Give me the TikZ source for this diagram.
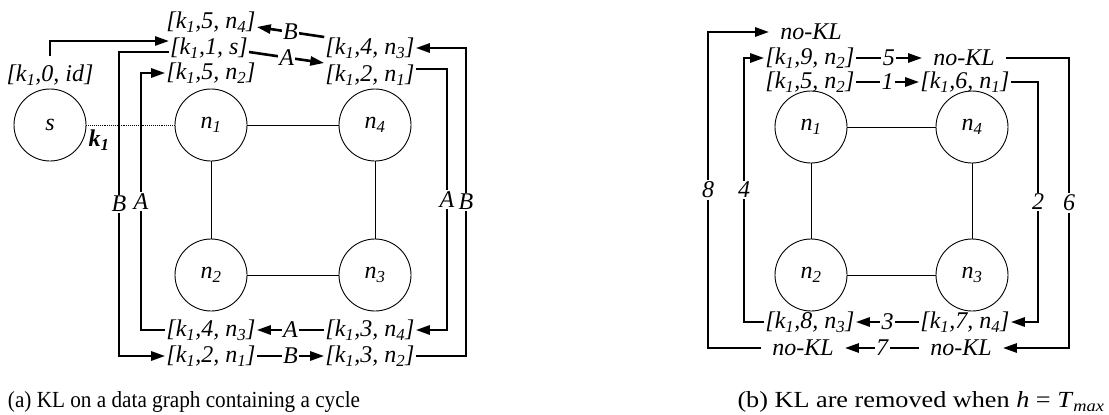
\documentclass[tikz,border=0pt]{standalone}
\usepackage{fontspec}
\setmainfont{Liberation Serif}
\usetikzlibrary{arrows.meta,calc}
\newcommand{\sub}[1]{\textsubscript{#1}}

\begin{document}
\begin{tikzpicture}[x=1pt, y=-1pt,
    vertex/.style={circle, draw, line width=0.9pt, minimum size=72pt,
        inner sep=0pt, font=\itshape\fontsize{24}{26}\selectfont},
    edge/.style={line width=0.9pt},
    klabel/.style={inner sep=1pt, font=\itshape\fontsize{24}{26}\selectfont},
    nokl/.style={klabel, inner xsep=11pt},
    conn/.style={line width=2.6pt},
    arr/.style={conn, -{Triangle[length=14pt, width=9pt]}},
    tag/.style={fill=white, inner sep=1.5pt, font=\itshape\fontsize{24}{26}\selectfont},
    capt/.style={inner sep=0pt, font=\fontsize{24}{26}\selectfont}
]
    \useasboundingbox (0,0) rectangle (1109,415);

    % (a) data graph with a cycle
    \node[vertex] (s) at (50,125) {s};
    \node[vertex] (a1) at (211,125) {n\sub{1}};
    \node[vertex] (a4) at (375,125) {n\sub{4}};
    \node[vertex] (a2) at (211,275) {n\sub{2}};
    \node[vertex] (a3) at (375,275) {n\sub{3}};
    \draw[edge] (a1) -- (a4) (a1) -- (a2) (a4) -- (a3) (a2) -- (a3);
    \draw[densely dotted, line width=0.9pt] (s) -- (a1);
    \node[font=\bfseries\itshape\fontsize{24}{26}\selectfont] (kone) at (99,140) {k\sub{1}};

    \node[klabel] (l0) at (50,75) {[k\sub{1},0, id]};
    \node[klabel] (l5n4) at (211,22) {[k\sub{1},5, n\sub{4}]};
    \node[klabel] (l1s) at (209,48) {[k\sub{1},1, s]};
    \node[klabel] (l5n2) at (211,73) {[k\sub{1},5, n\sub{2}]};
    \node[klabel] (l4n3t) at (370,48) {[k\sub{1},4, n\sub{3}]};
    \node[klabel] (l2n1t) at (370,75) {[k\sub{1},2, n\sub{1}]};
    \node[klabel] (l4n3b) at (211,330) {[k\sub{1},4, n\sub{3}]};
    \node[klabel] (l3n4) at (370,330) {[k\sub{1},3, n\sub{4}]};
    \node[klabel] (l2n1b) at (211,356) {[k\sub{1},2, n\sub{1}]};
    \node[klabel] (l3n2) at (370,356) {[k\sub{1},3, n\sub{2}]};

    \coordinate (xBl) at (119,0);
    \coordinate (xAl) at (141,0);
    \coordinate (xAr) at (447,0);
    \coordinate (xBr) at (466,0);

    \draw[arr, shorten <=8pt] (l0.north) |- ([yshift=7pt]l1s.west);
    \draw[arr] ([yshift=-4pt]l1s.east) -- node[tag] {A} ([yshift=12pt]l2n1t.west);
    \draw[arr] ([yshift=11pt]l4n3t.west) -- node[tag] {B} ([yshift=-5pt]l5n4.east);
    \draw[arr] ([yshift=-4pt]l1s.west) -| node[tag, pos=0.75] {B} (xBl |- l2n1b.west) -- (l2n1b.west);
    \draw[arr] (l4n3b.west) -| node[tag, pos=0.75] {A} (xAl |- l5n2.west) -- (l5n2.west);
    \draw[arr] ([yshift=6pt]l2n1t.east) -| node[tag, pos=0.75] {A} (xAr |- l3n4.east) -- (l3n4.east);
    \draw[arr] (l3n2.east) -| node[tag, pos=0.75] {B} (xBr |- l4n3t.east) -- (l4n3t.east);
    \draw[arr] (l3n4.west) -- node[tag] {A} (l4n3b.east);
    \draw[arr] (l2n1b.east) -- node[tag] {B} (l3n2.west);

    % (b) labels removed at h = T_max
    \node[vertex] (b1) at (811,127) {n\sub{1}};
    \node[vertex] (b4) at (972,127) {n\sub{4}};
    \node[vertex] (b2) at (811,275) {n\sub{2}};
    \node[vertex] (b3) at (972,275) {n\sub{3}};
    \draw[edge] (b1) -- (b4) (b1) -- (b2) (b4) -- (b3) (b2) -- (b3);

    \node[nokl] (top) at (811,32) {no-KL};
    \node[klabel] (b9n2) at (810,58) {[k\sub{1},9, n\sub{2}]};
    \node[klabel] (b5n2) at (810,82) {[k\sub{1},5, n\sub{2}]};
    \node[nokl] (topr) at (964,58) {no-KL};
    \node[klabel] (b6n1) at (965,82) {[k\sub{1},6, n\sub{1}]};
    \node[klabel] (b8n3) at (810,322) {[k\sub{1},8, n\sub{3}]};
    \node[klabel] (b7n4) at (965,322) {[k\sub{1},7, n\sub{4}]};
    \node[nokl] (botl) at (803,348) {no-KL};
    \node[nokl] (botr) at (961,348) {no-KL};

    \coordinate (x8) at (708,0);
    \coordinate (x4) at (744,0);
    \coordinate (x2) at (1038,0);
    \coordinate (x6) at (1069,0);

    \draw[arr] (b9n2.east) -- node[tag] {5} (topr.west);
    \draw[arr] (b5n2.east) -- node[tag] {1} (b6n1.west);
    \draw[arr] (b7n4.west) -- node[tag] {3} (b8n3.east);
    \draw[arr] (botr.west) -- node[tag] {7} (botl.east);
    \draw[arr] (botl.west) -| node[tag, pos=0.75] {8} (x8 |- top.west) -- (top.west);
    \draw[arr] (b8n3.west) -| node[tag, pos=0.75] {4} (x4 |- b9n2.west) -- (b9n2.west);
    \draw[arr] (b6n1.east) -| node[tag, pos=0.75] {2} (x2 |- b7n4.east) -- (b7n4.east);
    \draw[arr] (topr.east) -| node[tag, pos=0.75] {6} (x6 |- botr.east) -- (botr.east);

    % captions
    \node[capt] (capa) at (184,402) {\resizebox{352pt}{16pt}{(a) KL on a data graph containing a cycle}};
    \node[capt] (capb) at (921,402) {\resizebox{367pt}{16pt}{(b) KL are removed when \textit{h} = \textit{T}\sub{\textit{max}}}};
\end{tikzpicture}
\end{document}
